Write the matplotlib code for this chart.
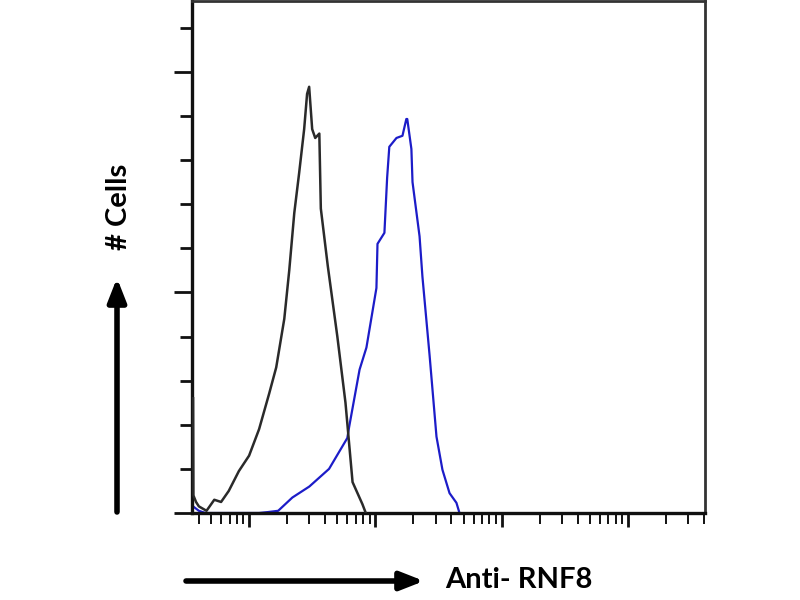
import matplotlib
matplotlib.use("Agg")
from matplotlib import pyplot as plt
from matplotlib.ticker import LogLocator, MultipleLocator, NullFormatter
import numpy as np

# isotype control (black) histogram
ctrl_x = [3.6, 3.62, 3.8, 4.0, 4.6, 5.3, 6.0, 6.9, 8.3, 10, 12, 14.4, 16.4, 19, 20.8,
          22.8, 24.9, 27.3, 28.8, 29.9, 31.6, 33.4, 36, 37, 42, 50, 58, 66, 79, 84]
ctrl_y = [2.6, 0.4, 0.25, 0.15, 0.05, 0.3, 0.25, 0.5, 0.95, 1.3, 1.9, 2.7, 3.3, 4.4, 5.5,
          6.8, 7.7, 8.7, 9.5, 9.66, 8.7, 8.5, 8.6, 6.9, 5.6, 4.0, 2.5, 0.7, 0.2, 0.0]

# anti-RNF8 (blue) histogram
rnf8_x = [3.6, 4.0, 4.5, 12, 14, 17, 22, 30, 43, 60, 62, 75, 85, 102, 104, 118,
          124, 129, 147, 164, 176, 179, 193, 197, 224, 236, 269, 305, 340, 387, 439, 464]
rnf8_y = [0.15, 0.05, 0.0, 0.0, 0.02, 0.05, 0.35, 0.6, 1.0, 1.7, 1.95, 3.25, 3.75, 5.1,
          6.1, 6.35, 7.6, 8.3, 8.5, 8.55, 8.93, 8.93, 8.25, 7.5, 6.27, 5.36, 3.57, 1.73,
          0.98, 0.45, 0.23, 0.0]

fig = plt.figure(figsize=(8, 6), dpi=100)
ax = fig.add_axes([0.24, 0.145, 0.641, 0.853])

ax.plot(ctrl_x, ctrl_y, color='#2a2a2a', lw=1.8, zorder=3)
ax.plot(rnf8_x, rnf8_y, color='#1c1cc8', lw=1.6)

ax.set_xscale('log')
ax.set_xlim(3.53, 40700)
ax.set_ylim(0, 11.6)

ax.xaxis.set_major_locator(LogLocator(base=10, numticks=10))
ax.xaxis.set_minor_locator(LogLocator(base=10, subs=np.arange(2, 10), numticks=20))
ax.xaxis.set_major_formatter(NullFormatter())
ax.xaxis.set_minor_formatter(NullFormatter())
ax.yaxis.set_major_locator(MultipleLocator(5))
ax.yaxis.set_minor_locator(MultipleLocator(1))
ax.yaxis.set_major_formatter(NullFormatter())

ax.tick_params(axis='y', which='major', direction='out', length=13, width=2, color='#111')
ax.tick_params(axis='y', which='minor', direction='out', length=9, width=2, color='#111')
ax.tick_params(axis='x', which='major', direction='out', length=10, width=2, color='#111')
ax.tick_params(axis='x', which='minor', direction='out', length=8, width=1.4, color='#111')

for side in ['left', 'bottom']:
    ax.spines[side].set_linewidth(2.4)
    ax.spines[side].set_color('#111')
for side in ['top', 'right']:
    ax.spines[side].set_linewidth(2.0)
    ax.spines[side].set_color('#333')

# axis arrows and labels
arrow = dict(arrowstyle='-|>,head_length=1.4,head_width=0.55',
             lw=4, color='black', shrinkA=0, shrinkB=0)
ax.annotate('', xy=(117 / 800, 1 - 278 / 600), xytext=(117 / 800, 1 - 512 / 600),
            xycoords='figure fraction', textcoords='figure fraction', arrowprops=arrow)
ax.annotate('', xy=(424 / 800, 1 - 581 / 600), xytext=(186 / 800, 1 - 581 / 600),
            xycoords='figure fraction', textcoords='figure fraction', arrowprops=arrow)
fig.text(119 / 800, 1 - 207 / 600, '# Cells', rotation=90, ha='center', va='center',
         fontsize=21, fontweight='bold', family='Lato')
fig.text(445 / 800, 1 - 580 / 600, 'Anti- RNF8', ha='left', va='center',
         fontsize=21, fontweight='bold', family='Lato')

plt.savefig('out.png', dpi=100)
